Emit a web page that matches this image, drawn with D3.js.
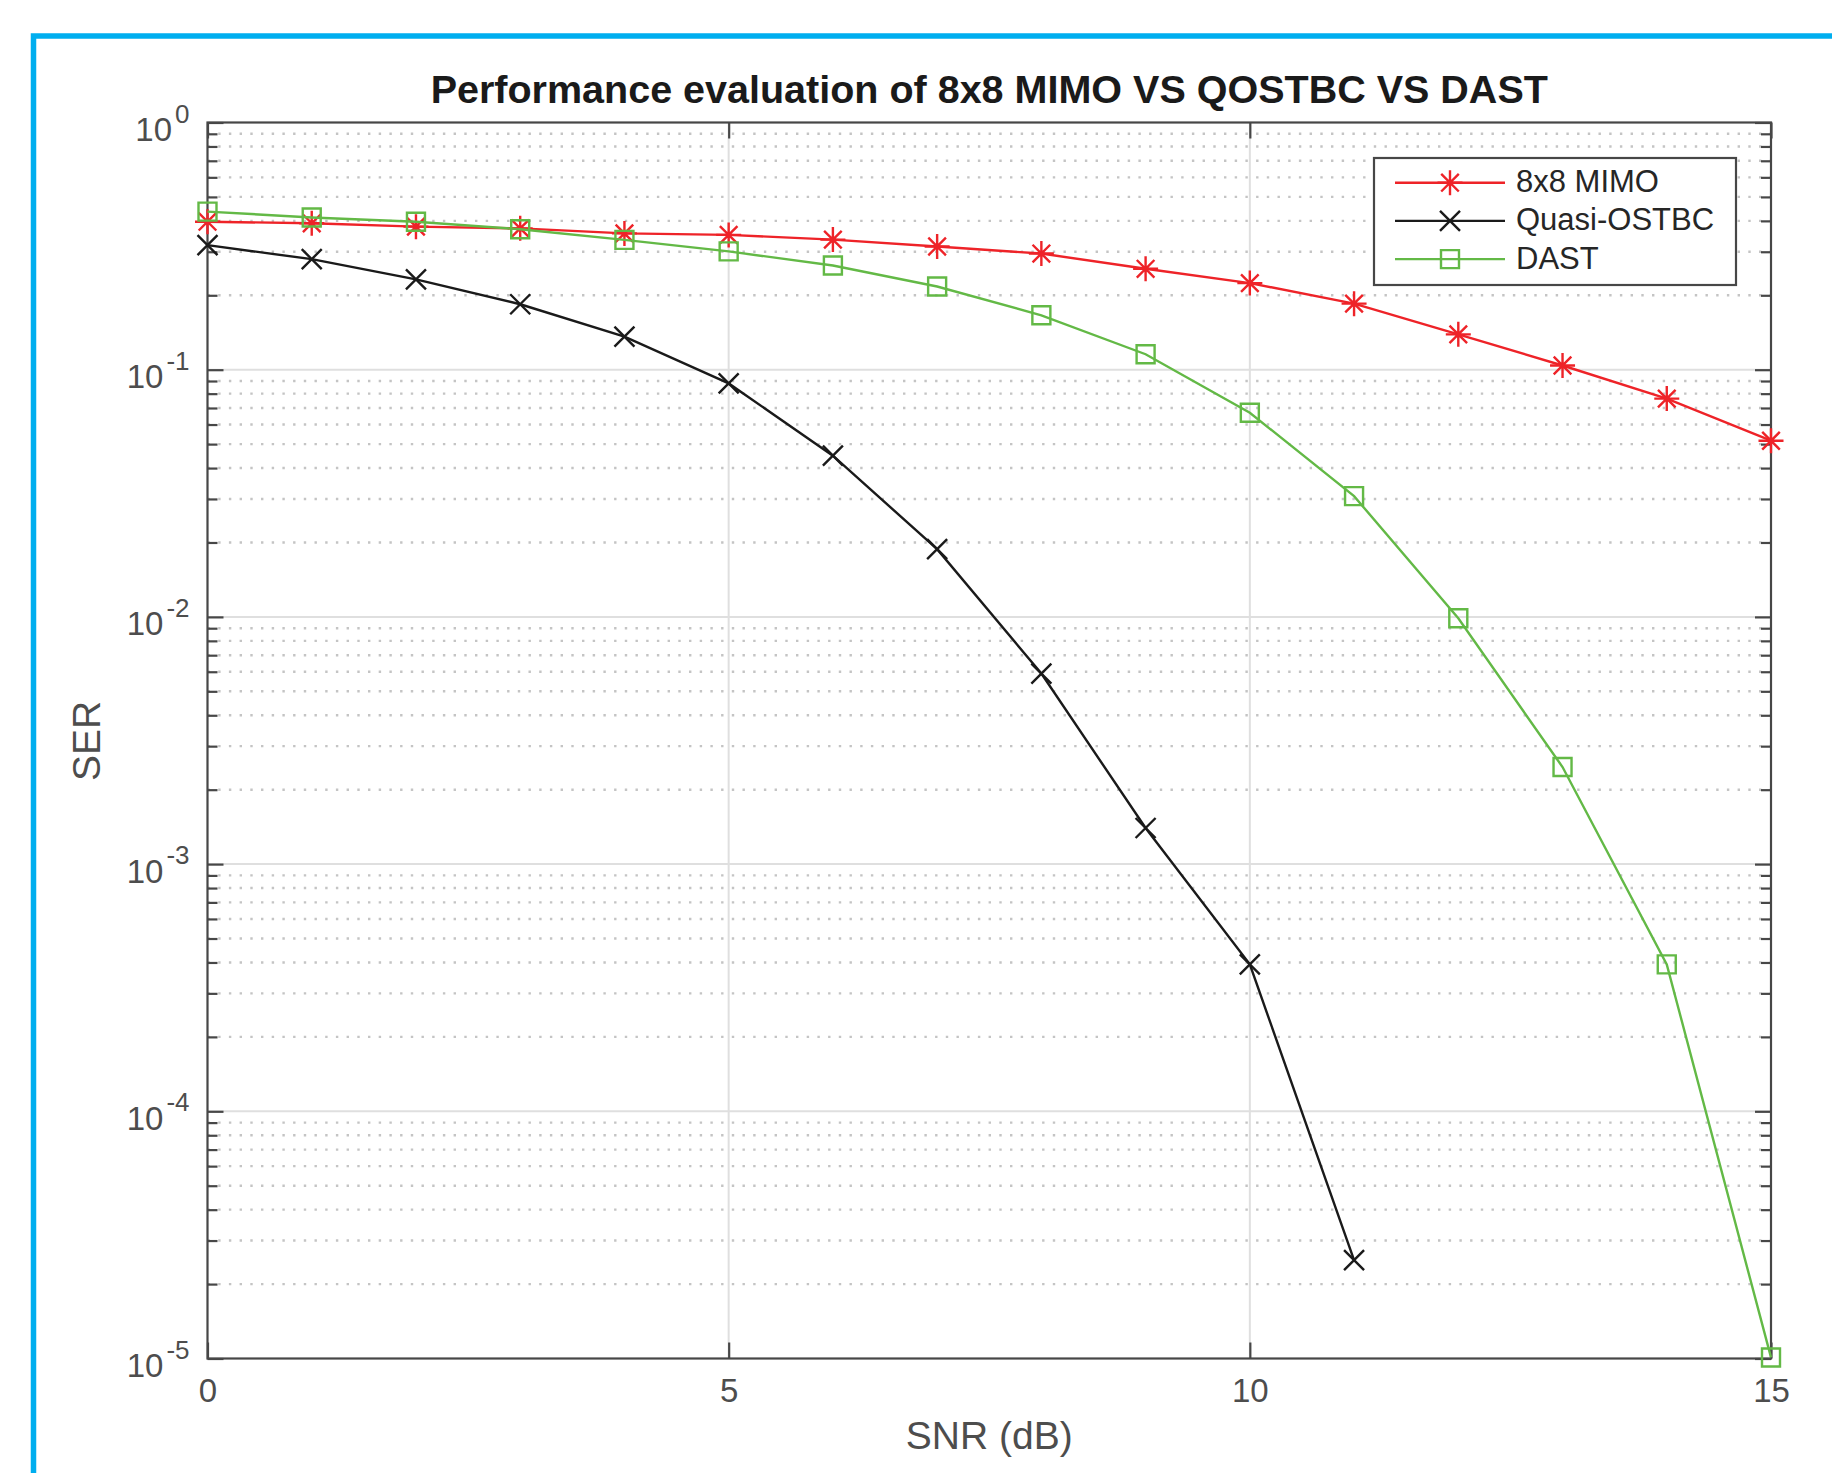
<!DOCTYPE html>
<html>
<head>
<meta charset="utf-8">
<script src="https://cdn.jsdelivr.net/npm/d3@7"></script>
<style>
  body { margin: 0; background: #fff; }
  svg { display: block; font-family: "Liberation Sans", Arial, sans-serif; }
</style>
</head>
<body>
<div id="chart"></div>
<script>
// data
var snr = [0, 1, 2, 3, 4, 5, 6, 7, 8, 9, 10, 11, 12, 13, 14, 15];
var mimo = [0.397, 0.391, 0.379, 0.373, 0.356, 0.351, 0.336, 0.315, 0.295, 0.256, 0.224, 0.185, 0.139, 0.104, 0.0764, 0.0516];
var qostbc = [0.319, 0.280, 0.232, 0.184, 0.136, 0.088, 0.0449, 0.0188, 0.0059, 0.0014, 0.000393, 0.000025];
var dast = [0.436, 0.413, 0.397, 0.370, 0.335, 0.301, 0.264, 0.217, 0.166, 0.1155, 0.067, 0.0308, 0.00987, 0.00247, 0.000393, 0.0000101];
var xTicks = [0, 5, 10, 15];
var yExps = [0, -1, -2, -3, -4, -5];
var seriesNames = ["8x8 MIMO", "Quasi-OSTBC", "DAST"];

var W = 1832, H = 1473;
var plotL = 207.5, plotR = 1771, plotT = 122.5, plotB = 1358.5;

var svg = d3.select("#chart").append("svg")
    .attr("width", W)
    .attr("height", H);

// blue frame round the figure
svg.append("rect")
    .attr("x", 33.5).attr("y", 36)
    .attr("width", 2000).attr("height", 2000)
    .attr("fill", "none")
    .attr("stroke", "#00aeef")
    .attr("stroke-width", 5.5);

var x = d3.scaleLinear().domain([0, 15]).range([plotL, plotR]);
var y = d3.scaleLog().domain([1e-5, 1]).range([plotB, plotT]);

var minorVals = [];
for (var k = -5; k < 0; k++) {
    for (var m = 2; m < 10; m++) {
        minorVals.push(m * Math.pow(10, k));
    }
}
var majorVals = yExps.map(function(e) { return Math.pow(10, e); });

// grid
var grid = svg.append("g");
grid.selectAll(".minor").data(minorVals).enter().append("line")
    .attr("x1", plotL).attr("x2", plotR)
    .attr("y1", function(d) { return y(d); })
    .attr("y2", function(d) { return y(d); })
    .attr("stroke", "#c4c4c4")
    .attr("stroke-width", 2.4)
    .attr("stroke-dasharray", "2.4,8.3");
grid.selectAll(".major").data(majorVals.slice(1, 5)).enter().append("line")
    .attr("x1", plotL).attr("x2", plotR)
    .attr("y1", function(d) { return y(d); })
    .attr("y2", function(d) { return y(d); })
    .attr("stroke", "#dfdfdf")
    .attr("stroke-width", 2);
grid.selectAll(".vmajor").data([5, 10]).enter().append("line")
    .attr("y1", plotT).attr("y2", plotB)
    .attr("x1", function(d) { return x(d); })
    .attr("x2", function(d) { return x(d); })
    .attr("stroke", "#dfdfdf")
    .attr("stroke-width", 2);

// axes, ticks pointing inward
var axisColor = "#474747";
function styleAxis(g) {
    g.select(".domain").remove();
    g.selectAll(".tick line").attr("stroke", axisColor).attr("stroke-width", 2.2);
}

svg.append("g")
    .attr("transform", "translate(0," + plotB + ")")
    .call(d3.axisBottom(x).tickValues(xTicks).tickSizeInner(-16).tickSizeOuter(0).tickPadding(20))
    .call(styleAxis)
    .call(function(g) {
        g.selectAll("text").attr("font-size", 33).attr("fill", "#4d4d4d")
            .attr("font-family", "Liberation Sans, Arial, sans-serif");
    });
svg.append("g")
    .attr("transform", "translate(0," + plotT + ")")
    .call(d3.axisTop(x).tickValues(xTicks).tickSizeInner(-16).tickSizeOuter(0).tickFormat(""))
    .call(styleAxis);

[[d3.axisLeft, plotL], [d3.axisRight, plotR]].forEach(function(a) {
    svg.append("g")
        .attr("transform", "translate(" + a[1] + ",0)")
        .call(a[0](y).tickValues(majorVals).tickSizeInner(-16).tickSizeOuter(0).tickFormat(""))
        .call(styleAxis);
    svg.append("g")
        .attr("transform", "translate(" + a[1] + ",0)")
        .call(a[0](y).tickValues(minorVals).tickSizeInner(-10).tickSizeOuter(0).tickFormat(""))
        .call(styleAxis);
});

// box
svg.append("rect")
    .attr("x", plotL).attr("y", plotT)
    .attr("width", plotR - plotL).attr("height", plotB - plotT)
    .attr("fill", "none")
    .attr("stroke", axisColor)
    .attr("stroke-width", 2.2);

// y tick labels 10^k
var yl = svg.append("g").selectAll("text").data(yExps).enter().append("text")
    .attr("x", 189.5)
    .attr("y", function(d) { return y(Math.pow(10, d)) + 18.5; })
    .attr("text-anchor", "end")
    .attr("font-size", 33)
    .attr("fill", "#4d4d4d")
    .text("10");
yl.append("tspan")
    .attr("dx", 3)
    .attr("dy", -18.5)
    .attr("font-size", 26)
    .text(function(d) { return d; });

// axis labels and title
svg.append("text")
    .attr("x", (plotL + plotR) / 2).attr("y", 1449)
    .attr("text-anchor", "middle")
    .attr("font-size", 39)
    .attr("fill", "#4d4d4d")
    .text("SNR (dB)");
svg.append("text")
    .attr("transform", "translate(100,741) rotate(-90)")
    .attr("text-anchor", "middle")
    .attr("font-size", 39)
    .attr("fill", "#4d4d4d")
    .text("SER");
svg.append("text")
    .attr("x", (plotL + plotR) / 2).attr("y", 103)
    .attr("text-anchor", "middle")
    .attr("font-size", 39.5)
    .attr("font-weight", "bold")
    .attr("fill", "#1a1a1a")
    .text("Performance evaluation of 8x8 MIMO VS QOSTBC VS DAST");

// markers
var starPath = "M0,-12.5L0,12.5M-12.5,0L12.5,0M-8.8,-8.8L8.8,8.8M-8.8,8.8L8.8,-8.8";
var crossPath = "M-10,-10L10,10M-10,10L10,-10";
var squarePath = "M-9,-9H9V9H-9Z";

var series = [
    { name: seriesNames[0], values: mimo, color: "#ee2328", marker: starPath },
    { name: seriesNames[1], values: qostbc, color: "#1a1a1a", marker: crossPath },
    { name: seriesNames[2], values: dast, color: "#63b946", marker: squarePath }
];

var line = d3.line()
    .x(function(d, i) { return x(snr[i]); })
    .y(function(d) { return y(d); });

series.forEach(function(s) {
    svg.append("path")
        .attr("d", line(s.values))
        .attr("fill", "none")
        .attr("stroke", s.color)
        .attr("stroke-width", 2.4);
    svg.append("g").selectAll("path").data(s.values).enter().append("path")
        .attr("transform", function(d, i) { return "translate(" + x(snr[i]) + "," + y(d) + ")"; })
        .attr("d", s.marker)
        .attr("fill", "none")
        .attr("stroke", s.color)
        .attr("stroke-width", 2.4);
});

// legend
var lg = svg.append("g");
lg.append("rect")
    .attr("x", 1374).attr("y", 158)
    .attr("width", 362).attr("height", 127)
    .attr("fill", "#fff")
    .attr("stroke", axisColor)
    .attr("stroke-width", 2.2);
var rows = lg.selectAll(".row").data(series).enter().append("g")
    .attr("transform", function(d, i) { return "translate(0," + (182.7 + i * 38.2) + ")"; });
rows.append("line")
    .attr("x1", 1395).attr("x2", 1505)
    .attr("stroke", function(d) { return d.color; })
    .attr("stroke-width", 2.4);
rows.append("path")
    .attr("transform", "translate(1450,0)")
    .attr("d", function(d) { return d.marker; })
    .attr("fill", "none")
    .attr("stroke", function(d) { return d.color; })
    .attr("stroke-width", 2.4);
rows.append("text")
    .attr("x", 1516).attr("y", 9.5)
    .attr("font-size", 31)
    .attr("fill", "#262626")
    .text(function(d) { return d.name; });
</script>
</body>
</html>
